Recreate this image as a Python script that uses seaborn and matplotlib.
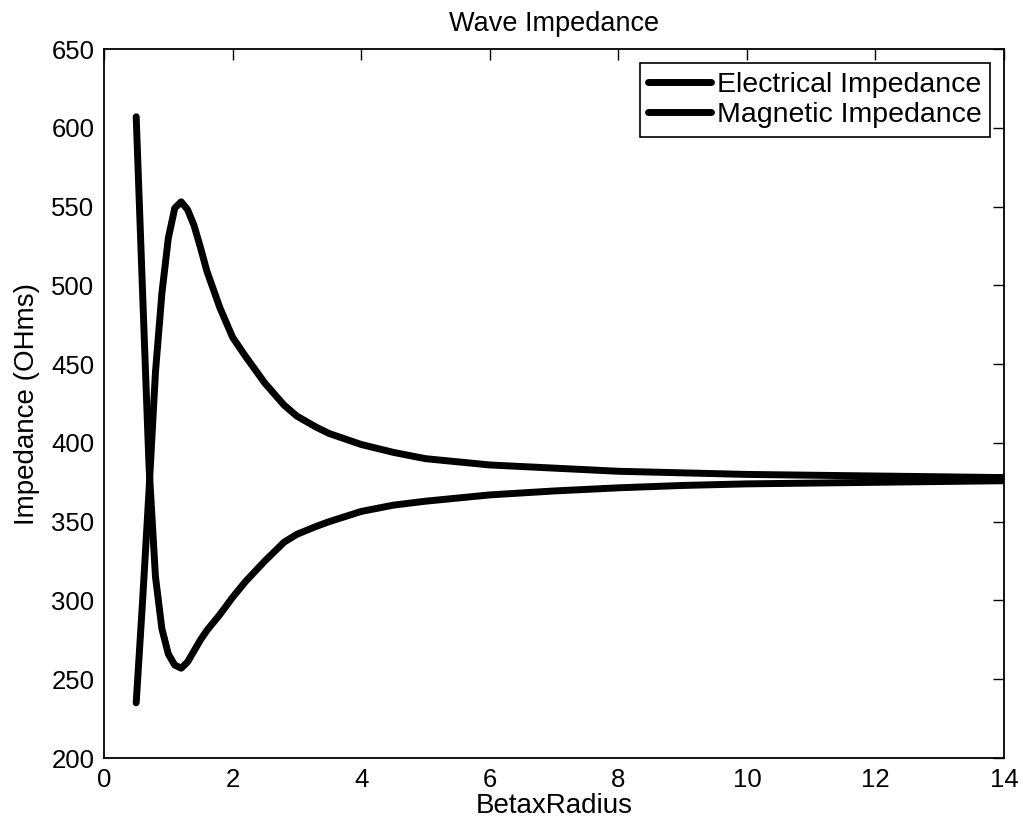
import matplotlib
matplotlib.use("Agg")
import matplotlib.pyplot as plt
import seaborn as sns
import pandas as pd

beta_r = [0.5, 0.6, 0.7, 0.8, 0.9, 1.0, 1.1, 1.2, 1.3, 1.4, 1.5, 1.6, 1.8, 2.0,
          2.2, 2.5, 2.8, 3.0, 3.3, 3.5, 4.0, 4.5, 5.0, 5.5, 6.0, 7.0, 8.0, 9.0,
          10.0, 11.0, 12.0, 13.0, 14.0]
electrical = [235, 300, 370, 445, 495, 530, 549, 553, 548, 538, 524, 509, 486, 467,
              455, 438, 424, 417, 410, 406, 399, 394, 390, 388, 386, 384, 382, 381,
              380, 379.5, 379, 378.5, 378]
magnetic = [607, 495, 385, 315, 282, 266, 259, 257, 261, 268, 275, 281, 291, 302,
            312, 325, 337, 342, 347, 350, 356.5, 360.5, 363, 365, 367, 369.5, 371.5, 373,
            374, 374.5, 375, 375.5, 376]
series_names = ["Electrical Impedance", "Magnetic Impedance"]

df = pd.concat([
    pd.DataFrame({"x": beta_r, "y": electrical, "series": series_names[0]}),
    pd.DataFrame({"x": beta_r, "y": magnetic, "series": series_names[1]}),
])

sns.set_style("white")
plt.rcParams["font.family"] = ["Liberation Sans", "DejaVu Sans"]
plt.rcParams["text.color"] = "black"
plt.rcParams["axes.labelcolor"] = "black"
plt.rcParams["xtick.color"] = "black"
plt.rcParams["ytick.color"] = "black"

fig = plt.figure(figsize=(10.23, 8.32), dpi=100)
ax = fig.add_axes([0.1017, 0.0889, 0.8798, 0.8522])

sns.lineplot(data=df, x="x", y="y", hue="series", hue_order=series_names,
             palette=["black", "black"], linewidth=5, sort=False, ax=ax)

ax.set_xlim(0, 14)
ax.set_ylim(200, 650)
ax.set_xticks(range(0, 15, 2))
ax.set_yticks(range(200, 651, 50))
ax.tick_params(direction="in", length=8, width=1, top=True, right=True,
               labelsize=18.5, colors="black", pad=7)
for s in ax.spines.values():
    s.set_visible(True)
    s.set_color("black")
    s.set_linewidth(1.3)

ax.set_title("Wave Impedance", fontsize=19.5, pad=13, color="black")
ax.set_xlabel("BetaxRadius", fontsize=20, labelpad=1, color="black")
ax.set_ylabel("Impedance (OHms)", fontsize=20, labelpad=8, color="black")

leg = ax.legend(loc="upper right", fontsize=20.5, frameon=True, fancybox=False,
                edgecolor="black", framealpha=1, handlelength=2.2,
                borderaxespad=0.5, borderpad=0.3, labelspacing=0.15,
                handletextpad=0.2, labelcolor="black")
leg.get_frame().set_linewidth(1.2)
for h in leg.get_lines():
    h.set_linewidth(5)

fig.savefig("out.png", dpi=100)
